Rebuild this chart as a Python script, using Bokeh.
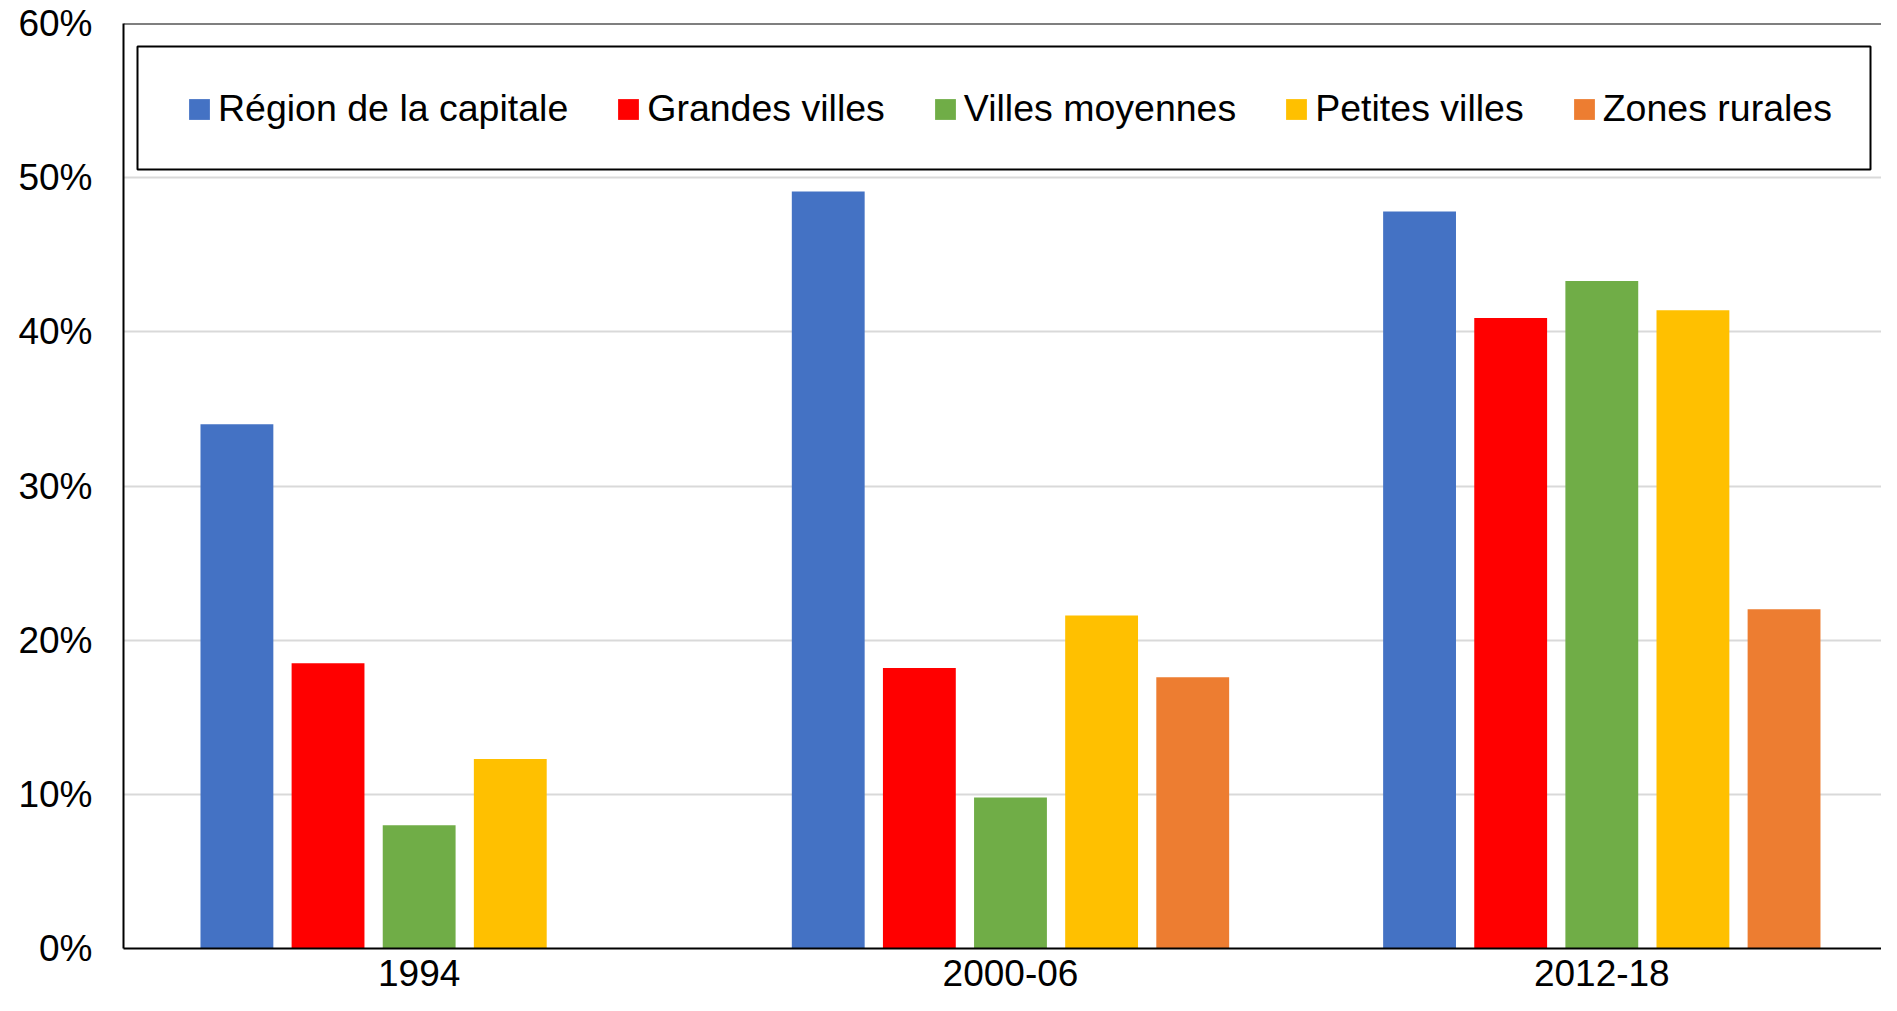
from bokeh.plotting import figure
from bokeh.models import (ColumnDataSource, Range1d, FixedTicker, Legend, LegendItem,
                          PrintfTickFormatter, Span, BoxAnnotation)
from bokeh.embed import file_html
from bokeh.resources import INLINE

# ---- data ----
categories = ["1994", "2000-06", "2012-18"]
series_names = ["Région de la capitale", "Grandes villes", "Villes moyennes",
                "Petites villes", "Zones rurales"]
capitale = [34.0, 49.1, 47.8]
grandes = [18.5, 18.2, 40.9]
moyennes = [8.0, 9.8, 43.3]
petites = [12.3, 21.6, 41.4]
rurales = [float("nan"), 17.6, 22.0]
colors = ["#4472C4", "#FF0000", "#70AD47", "#FFC000", "#ED7D31"]
y_ticks = [0, 10, 20, 30, 40, 50, 60]

FONT = "Liberation Sans"
FS = "37px"
LEG_FS = "37.5px"

p = figure(width=1881, height=995, output_backend="svg", toolbar_location=None,
           x_range=Range1d(0, 2.973), y_range=Range1d(0, 60),
           min_border_left=123, min_border_right=0, min_border_top=23,
           min_border_bottom=47)
p.outline_line_color = None
p.background_fill_color = "white"
p.border_fill_color = "white"

centers = [i + 0.5 for i in range(len(categories))]
step = 0.1541
bar_w = 0.1232
all_series = [capitale, grandes, moyennes, petites, rurales]
renderers = []
for k, (vals, col) in enumerate(zip(all_series, colors)):
    off = (k - 2) * step
    src = ColumnDataSource(dict(x=[c + off for c in centers], top=vals))
    r = p.vbar(x="x", top="top", width=bar_w, bottom=0, source=src,
               fill_color=col, line_color=None)
    renderers.append(r)

# axes
p.xaxis.ticker = FixedTicker(ticks=centers)
p.xaxis.major_label_overrides = {c: lab for c, lab in zip(centers, categories)}
p.xaxis.major_label_standoff = 5
p.yaxis.ticker = FixedTicker(ticks=y_ticks)
p.yaxis.formatter = PrintfTickFormatter(format="%d%%")
for ax in (p.xaxis[0], p.yaxis[0]):
    ax.axis_line_color = "black"
    ax.axis_line_width = 2
    ax.major_tick_line_color = None
    ax.minor_tick_line_color = None
    ax.major_label_text_font = FONT
    ax.major_label_text_font_size = FS
    ax.major_label_text_color = "black"
p.yaxis.major_label_standoff = 25

p.xgrid.grid_line_color = None
p.ygrid.grid_line_color = "#D9D9D9"
p.ygrid.grid_line_width = 2
p.ygrid.ticker = FixedTicker(ticks=y_ticks)

p.add_layout(Span(location=60, dimension="width", line_color="black", line_width=2))

# legend frame (screen units, measured from the plot frame's bottom-left)
p.add_layout(BoxAnnotation(left=14, right=1747, bottom=779, top=902,
                           left_units="screen", right_units="screen",
                           bottom_units="screen", top_units="screen",
                           fill_alpha=0, line_color="black", line_width=2,
                           line_alpha=1))

legend = Legend(items=[LegendItem(label=n, renderers=[r]) for n, r in zip(series_names, renderers)],
                orientation="horizontal", location=(63, 818), margin=0, padding=30,
                spacing=47, glyph_width=26, glyph_height=26, label_standoff=6,
                label_text_font=FONT, label_text_font_size=LEG_FS, label_text_color="black",
                border_line_color=None, background_fill_alpha=0)
p.add_layout(legend, "center")

open("out.html", "w").write(file_html(p, INLINE))
